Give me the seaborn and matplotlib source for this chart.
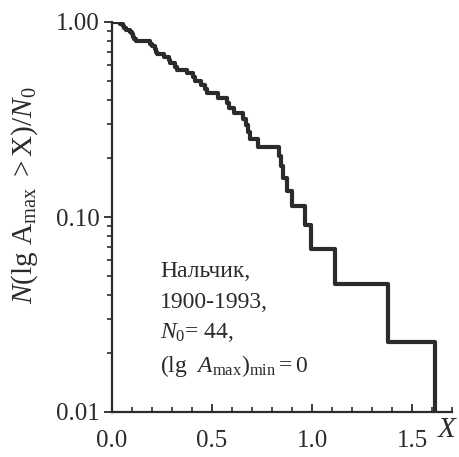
import matplotlib
matplotlib.use('Agg')
import matplotlib.pyplot as plt
import numpy as np
import seaborn as sns
from matplotlib.ticker import FixedLocator, MultipleLocator, NullFormatter

# lg A_max of the 44 events, Nalchik 1900-1993
lg_amax = [0.04, 0.055, 0.06, 0.07, 0.09, 0.10, 0.105, 0.11, 0.12, 0.19,
           0.20, 0.215, 0.22, 0.225, 0.26, 0.285, 0.29, 0.315, 0.325, 0.375,
           0.405, 0.415, 0.445, 0.465, 0.475, 0.53, 0.575, 0.585, 0.61, 0.655,
           0.67, 0.68, 0.69, 0.73, 0.835, 0.845, 0.855, 0.875, 0.90, 0.965,
           0.995, 1.115, 1.38, 1.615]
lg_amax_min = 0.0

y_ticks = [0.01, 0.1, 1.0]
y_ticklabels = ['0.01', '0.10', '1.00']
x_ticks = [0.0, 0.5, 1.0, 1.5]
x_ticklabels = ['0.0', '0.5', '1.0', '1.5']
info_lines = ['Нальчик,', '1900-1993,', r'$N_{\mathit{0}}$= 44,',
              r'$(\mathrm{lg}\ \ A_{\mathrm{max}})_{\mathrm{min}} = 0$']

# survival curve N(lg A_max > X)/N0
n0 = len(lg_amax)
xs = np.concatenate([[lg_amax_min], np.sort(lg_amax)])
ys = (n0 - np.arange(n0 + 1)) / n0

sns.set_style('ticks')
plt.rcParams['font.family'] = ['Liberation Serif', 'DejaVu Serif']
plt.rcParams['mathtext.fontset'] = 'custom'
plt.rcParams['mathtext.rm'] = 'Liberation Serif'
plt.rcParams['mathtext.it'] = 'Liberation Serif:italic'
plt.rcParams['mathtext.bf'] = 'Liberation Serif:bold'

ink = '#2b2b2b'
fig = plt.figure(figsize=(4.59, 4.57), dpi=100)
ax = fig.add_axes([112 / 459, 1 - 412 / 457, 340 / 459, 390 / 457])

ax.set_yscale('log')
sns.lineplot(x=xs, y=ys, ax=ax, color=ink, linewidth=3, drawstyle='steps-post',
             estimator=None, sort=False)

ax.set_xlim(0, 1.70)
ax.set_ylim(0.01, 1.0)

for s in ['top', 'right']:
    ax.spines[s].set_visible(False)
for s in ['left', 'bottom']:
    ax.spines[s].set_linewidth(1.6)
    ax.spines[s].set_color(ink)

ax.yaxis.set_major_locator(FixedLocator(y_ticks))
ax.set_yticklabels(y_ticklabels)
ax.yaxis.set_minor_formatter(NullFormatter())
ax.xaxis.set_major_locator(FixedLocator(x_ticks))
ax.set_xticklabels(x_ticklabels)
ax.xaxis.set_minor_locator(MultipleLocator(0.1))

ax.tick_params(axis='y', which='major', direction='out', length=6, width=1.3,
               color=ink, labelsize=18, labelcolor=ink, pad=3)
ax.tick_params(axis='y', which='minor', direction='out', length=3.5, width=1.2, color=ink)
ax.tick_params(axis='x', which='major', direction='in', length=6, width=1.3,
               color=ink, labelsize=18, labelcolor=ink, pad=13)
ax.tick_params(axis='x', which='minor', direction='in', length=3.5, width=1.2, color=ink)

ax.set_xlabel('')
ax.set_ylabel(r'$N(\mathrm{lg\ A_{max}\ >X})/N_{\mathit{0}}$', fontsize=21, color=ink)
ax.yaxis.set_label_coords(-0.212, 0.555)

ax.text(0.985, -0.045, 'X', transform=ax.transAxes, fontsize=21, style='italic',
        color=ink, ha='center', va='center', clip_on=False)

for ypos, line in zip([0.359, 0.282, 0.203, 0.118], info_lines):
    ax.text(0.141, ypos, line, transform=ax.transAxes, fontsize=17,
            color=ink, ha='left', va='center')

fig.savefig('out.png', dpi=100)
